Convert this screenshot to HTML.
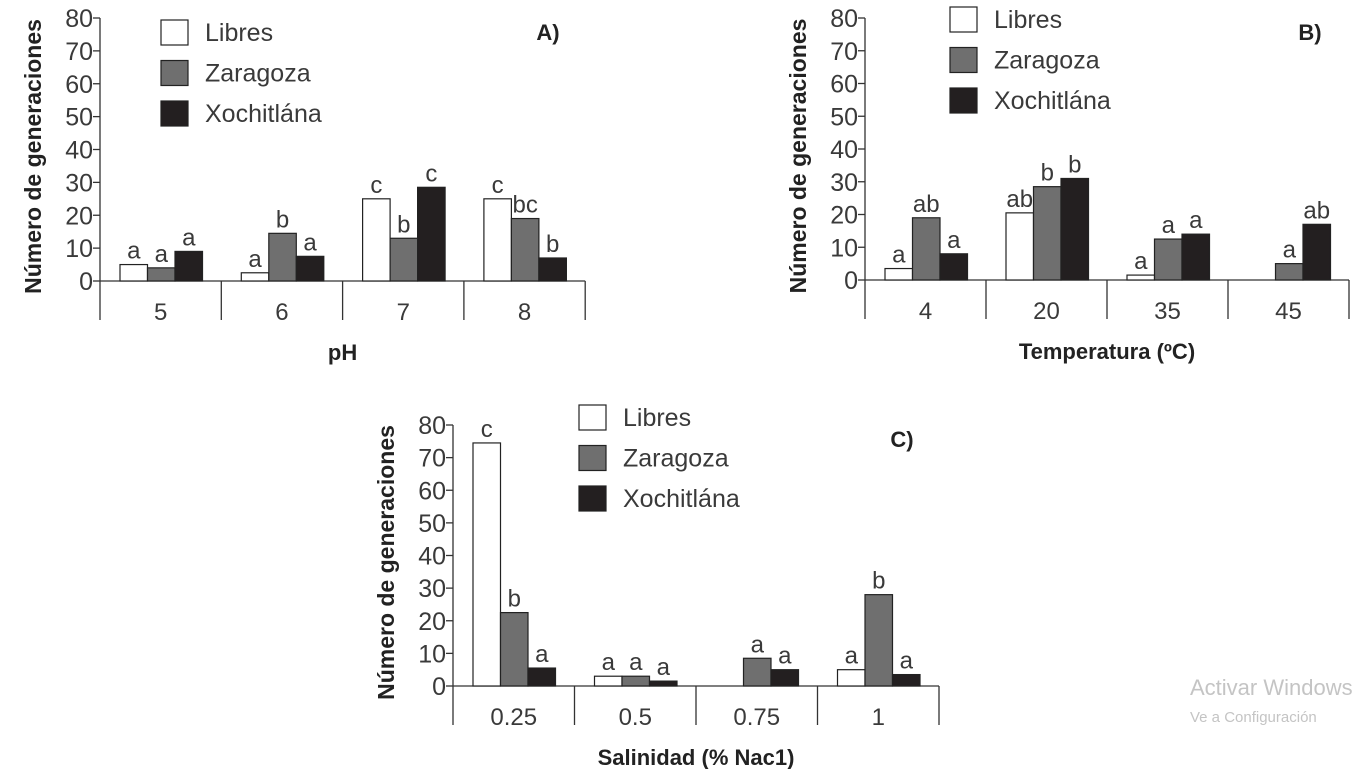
<!DOCTYPE html>
<html><head><meta charset="utf-8">
<style>
html,body{margin:0;padding:0;background:#fff;}
svg{display:block;font-family:"Liberation Sans",sans-serif;}
</style></head>
<body>
<svg id="root" width="1362" height="769" viewBox="0 0 1362 769">
<text x="1190" y="695" font-size="22" fill="#c4c4c4">Activar Windows</text>
<text x="1190" y="722" font-size="15" fill="#c4c4c4">Ve a Configuración</text>
</svg>
<script>
const seriesNames = ["Libres","Zaragoza","Xochitlána"];
const fills = ["#ffffff","#6f6f6f","#231f20"];
const yTicks = [0,10,20,30,40,50,60,70,80];

const catsA = ["5","6","7","8"];
const libresA = [5,2.5,25,25];
const zarA = [4,14.5,13,19];
const xochA = [9,7.5,28.5,7];
const lettersA = [["a","a","a"],["a","b","a"],["c","b","c"],["c","bc","b"]];

const catsB = ["4","20","35","45"];
const libresB = [3.5,20.5,1.5,0];
const zarB = [19,28.5,12.5,5];
const xochB = [8,31,14,17];
const lettersB = [["a","ab","a"],["ab","b","b"],["a","a","a"],["","a","ab"]];

const catsC = ["0.25","0.5","0.75","1"];
const libresC = [74.5,3,0,5];
const zarC = [22.5,3,8.5,28];
const xochC = [5.5,1.5,5,3.5];
const lettersC = [["c","b","a"],["a","a","a"],["","a","a"],["a","b","a"]];

const NS="http://www.w3.org/2000/svg";
const root=document.getElementById('root');
function mk(tag,attrs,parent){const e=document.createElementNS(NS,tag);for(const k in attrs)e.setAttribute(k,attrs[k]);(parent||root).appendChild(e);return e;}

function chart(cfg){
  const g=mk('g',{});
  
  
  const x0=cfg.x0, catW=cfg.catW, y0=cfg.y0, yTop=cfg.yTop;
  const ys=v=>y0-(v/80)*(y0-yTop);
  const ax=mk('line',{x1:x0,y1:yTop,x2:x0,y2:y0+39,stroke:'#333','stroke-width':1.3},g);
  
  
  yTicks.forEach(t=>{
    const tk=mk('line',{x1:x0-7,y1:ys(t),x2:x0,y2:ys(t),stroke:'#333','stroke-width':1.3},g);
    
    
    const tl=mk('text',{x:x0-7,y:ys(t)+9,'font-size':25,fill:'#3a3a3a','text-anchor':'end'},g);
    tl.textContent=t;
    
    
  });
  const n=cfg.cats.length;
  const base=mk('line',{x1:x0,y1:y0,x2:x0+n*catW,y2:y0,stroke:'#333','stroke-width':1.3},g);
  
  
  for(let i=1;i<=n;i++){
    const s=mk('line',{x1:x0+i*catW,y1:y0,x2:x0+i*catW,y2:y0+39,stroke:'#333','stroke-width':1.3},g);
    
    
  }
  const series=[cfg.s1,cfg.s2,cfg.s3];
  const bw=27.5;
  cfg.cats.forEach((c,i)=>{
    const cl=mk('text',{x:x0+i*catW+catW/2,y:y0+39,'font-size':24,fill:'#3a3a3a','text-anchor':'middle'},g);
    cl.textContent=c;
    
    
    series.forEach((arr,j)=>{
      const v=arr[i];
      const bx=x0+i*catW+20+j*bw;
      if(v>0){
        const r=mk('rect',{x:bx,y:ys(v),width:bw,height:y0-ys(v),fill:fills[j],stroke:'#222','stroke-width':1.2},g);
        
        
      }
      const L=cfg.letters[i][j];
      if(L){
        const lt=mk('text',{x:bx+bw/2,y:ys(v)-6,'font-size':24,fill:'#3a3a3a','text-anchor':'middle'},g);
        lt.textContent=L;
        
        
      }
    });
  });
  const xt=mk('text',{x:x0+n*catW/2,y:y0+79,'font-size':22,'font-weight':'bold',fill:'#222','text-anchor':'middle'},g);
  xt.textContent=cfg.xTitle;
  
  
  const cy=(y0+yTop)/2;
  const yt=mk('text',{x:0,y:0,'font-size':23,'font-weight':'bold',fill:'#222','text-anchor':'middle',transform:`translate(${x0-59},${cy+7}) rotate(-90)`},g);
  yt.textContent='Número de generaciones';
  
  
  seriesNames.forEach((nm,j)=>{
    const ly=cfg.legY+j*40.5;
    const b=mk('rect',{x:cfg.legX,y:ly,width:27,height:25,fill:fills[j],stroke:'#222','stroke-width':1.2},g);
    
    
    const t=mk('text',{x:cfg.legX+44,y:ly+21,'font-size':25,fill:'#3a3a3a'},g);
    t.textContent=nm;
    
    
  });
  const pl=mk('text',{x:cfg.panX,y:cfg.panY,'font-size':22,'font-weight':'bold',fill:'#222','text-anchor':'middle'},g);
  pl.textContent=cfg.panel;
  
  
}

chart({id:'ph',x0:100,catW:121.3,y0:281,yTop:18,cats:catsA,s1:libresA,s2:zarA,s3:xochA,letters:lettersA,xTitle:'pH',legX:161,legY:20,panX:548,panY:40,panel:'A)'});
chart({id:'temperature',x0:865,catW:121,y0:280,yTop:18,cats:catsB,s1:libresB,s2:zarB,s3:xochB,letters:lettersB,xTitle:'Temperatura (ºC)',legX:950,legY:7,panX:1310,panY:40,panel:'B)'});
chart({id:'salinity',x0:453,catW:121.5,y0:686,yTop:425,cats:catsC,s1:libresC,s2:zarC,s3:xochC,letters:lettersC,xTitle:'Salinidad (% Nac1)',legX:579,legY:405,panX:902,panY:447,panel:'C)'});
</script>
</body></html>
